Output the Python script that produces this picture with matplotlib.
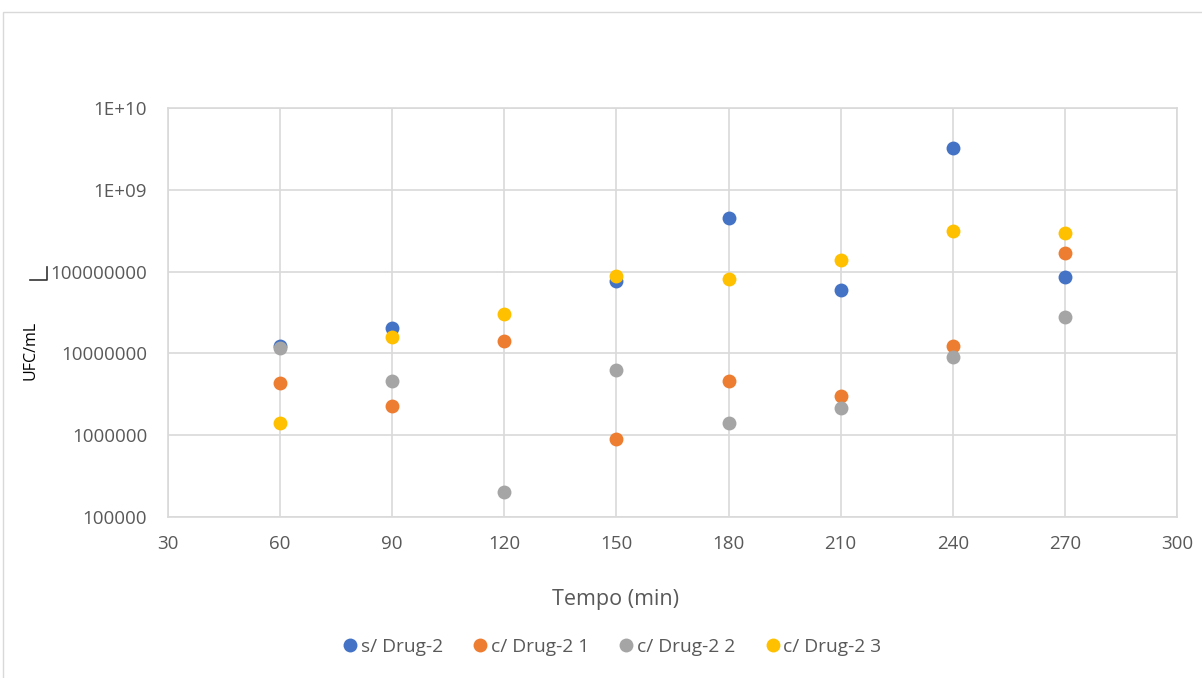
import numpy as np
import matplotlib.pyplot as plt
from matplotlib.lines import Line2D
from matplotlib.patches import Rectangle
from matplotlib.ticker import FixedLocator, FuncFormatter

plt.rcParams['font.family'] = ['Open Sans', 'DejaVu Sans']

# tempo (min)
tempo = [60, 90, 120, 150, 180, 210, 240, 270]

# UFC/mL per series (None = no point)
s_drug = [1.23e7, 2.05e7, None, 7.7e7, 4.5e8, 5.96e7, 3.2e9, 8.6e7]
c_drug_1 = [4.35e6, 2.27e6, 1.4e7, 8.9e5, 4.6e6, 3.0e6, 1.23e7, 1.69e8]
c_drug_2 = [1.16e7, 4.6e6, 2.03e5, 6.3e6, 1.41e6, 2.15e6, 9.1e6, 2.8e7]
c_drug_3 = [1.4e6, 1.58e7, 3.0e7, 8.8e7, 8.1e7, 1.39e8, 3.15e8, 2.97e8]

series_names = ['s/ Drug-2', 'c/ Drug-2 1', 'c/ Drug-2 2', 'c/ Drug-2 3']
series_vals = [s_drug, c_drug_1, c_drug_2, c_drug_3]
colors = ['#4472C4', '#ED7D31', '#A5A5A5', '#FFC000']

fig = plt.figure(figsize=(12.02, 6.78), dpi=100)
W, H = 1202, 678
ax = fig.add_axes([168 / W, 1 - 517 / H, (1177 - 168) / W, (517 - 108) / H])

# outer chart border
fig.add_artist(Rectangle((3 / W, -0.1), 1.2, 1 - 12 / H + 0.1, transform=fig.transFigure,
                         fill=False, edgecolor='#d9d9d9', linewidth=1))

for name, vals, col in zip(series_names, series_vals, colors):
    xs = [t for t, v in zip(tempo, vals) if v is not None]
    ys = [v for v in vals if v is not None]
    ax.plot(xs, ys, 'o', color=col, markersize=10, markeredgewidth=0, label=name, zorder=3)

ax.set_yscale('log')
ax.set_ylim(1e5, 1e10)
ax.set_xlim(30, 300)
ax.set_xticks(np.arange(30, 301, 30))
ax.yaxis.set_major_locator(FixedLocator([1e5, 1e6, 1e7, 1e8, 1e9, 1e10]))
ax.yaxis.set_minor_locator(FixedLocator([]))


def fmt(v, pos):
    if v >= 1e9:
        return '1E+%02d' % int(round(np.log10(v)))
    return '%d' % int(round(v))


ax.yaxis.set_major_formatter(FuncFormatter(fmt))
ax.grid(True, color='#d9d9d9', linewidth=1.2, zorder=0)
ax.set_axisbelow(True)
for sp in ax.spines.values():
    sp.set_color('#d9d9d9')
    sp.set_linewidth(1.2)
ax.tick_params(length=0, labelsize=13.5, colors='#595959')
ax.tick_params(axis='y', pad=15)
ax.tick_params(axis='x', pad=13)

# x label centred on the chart area, not the plot area
fig.text(616 / W, 1 - 599 / H, 'Tempo (min)', fontsize=15.5, color='#595959',
         ha='center', va='center')
fig.text(30 / W, 1 - 350 / H, 'UFC/mL', rotation=90, fontsize=11.5, color='black',
         ha='center', va='center')

# small bracket mark beside the axis label
fig.add_artist(Line2D([30 / W, 47 / W, 47 / W], [1 - 280 / H, 1 - 280 / H, 1 - 267 / H],
                      transform=fig.transFigure, color='#333333', linewidth=1.2))

leg = fig.legend(loc='center', bbox_to_anchor=(611 / W, 1 - 647 / H), ncol=4, frameon=False,
                 fontsize=13.8, handletextpad=0.05, columnspacing=1.45, handlelength=1.0,
                 labelcolor='#595959')

fig.savefig('out.png', dpi=100)
